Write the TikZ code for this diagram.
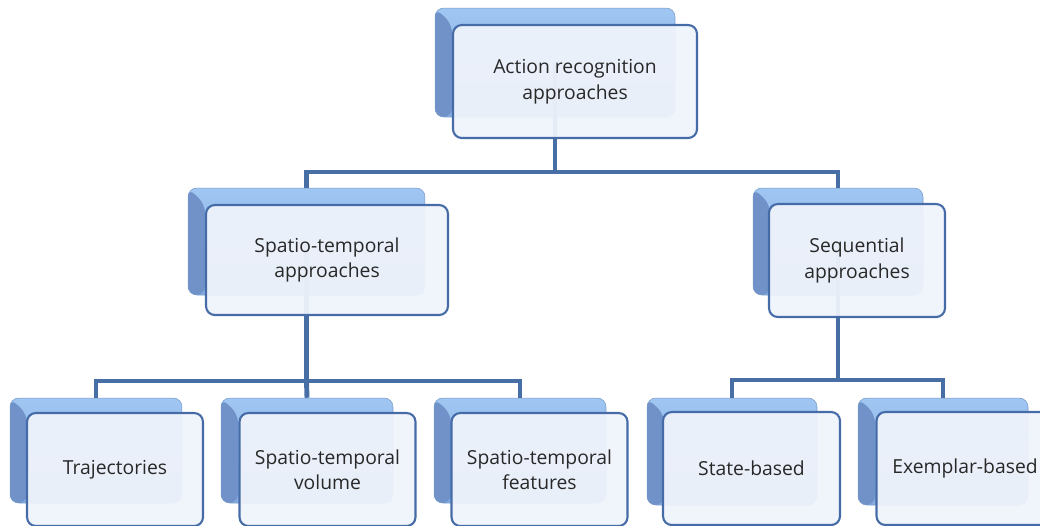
\documentclass[tikz,border=0pt]{standalone}
\usepackage{fontspec}
\setmainfont{Open Sans}
\definecolor{linkblue}{RGB}{72,110,166}
\definecolor{backtop}{RGB}{160,198,242}
\definecolor{backbot}{RGB}{132,172,226}
\definecolor{bevel}{RGB}{112,146,200}
\definecolor{frontfill}{RGB}{239,243,251}
\definecolor{frontline}{RGB}{70,108,168}
\definecolor{txt}{RGB}{40,40,40}

\tikzset{
  backbox/.style={rounded corners=5pt, top color=backtop, bottom color=backbot,
    draw=backbot!90!black, line width=0.3pt,
    path picture={\fill[bevel] (path picture bounding box.north west) -- ++(0.34cm,-0.32cm)
      -- ([xshift=0.34cm]path picture bounding box.south west)
      -- (path picture bounding box.south west) -- cycle;}},
  frontbox/.style={rounded corners=5pt, fill=frontfill, fill opacity=0.95,
    text opacity=1, draw=frontline, line width=1.2pt, align=center, text=txt,
    font=\fontsize{11}{14.5}\selectfont},
  link/.style={draw=linkblue, line width=2.8pt}
}

\begin{document}
\begin{tikzpicture}[x=0.02cm, y=-0.02cm]
\useasboundingbox (0,0) rectangle (1040,525);
\begin{scope}
\clip (0,0) rectangle (1040,525);

% back boxes
\node[backbox, minimum width=4.8cm, minimum height=2.18cm] (rootB) at (555,62.5) {};
\node[backbox, minimum width=4.74cm, minimum height=2.14cm] (stB) at (306.5,241.5) {};
\node[backbox, minimum width=3.4cm, minimum height=2.14cm] (seqB) at (838,241.5) {};
\node[backbox, minimum width=3.44cm, minimum height=2.1cm] (trajB) at (96,450.5) {};
\node[backbox, minimum width=3.44cm, minimum height=2.1cm] (volB) at (307,450.5) {};
\node[backbox, minimum width=3.44cm, minimum height=2.1cm] (featB) at (520,450.5) {};
\node[backbox, minimum width=3.4cm, minimum height=2.14cm] (stateB) at (732,451.5) {};
\node[backbox, minimum width=3.4cm, minimum height=2.14cm] (exB) at (943,451.5) {};

% connectors
\coordinate (bus1) at (555,172);
\coordinate (bus2) at (306.5,381);
\coordinate (bus3) at (838,380);
\draw[link] (rootB.center) -- (bus1) -| (stB.north); % root -- spatio-temporal
\draw[link] (bus1) -| (seqB.north); % root -- sequential
\draw[link] (stB.center) -- (bus2) -| (trajB.north); % spatio-temporal -- trajectories
\draw[link] (bus2) -- (volB.north); % spatio-temporal -- volume
\draw[link] (bus2) -| (featB.north); % spatio-temporal -- features
\draw[link] (seqB.center) -- (bus3) -| (stateB.north); % sequential -- state-based
\draw[link] (bus3) -| (exB.north); % sequential -- exemplar-based

% front boxes
\node[frontbox, minimum width=4.88cm, minimum height=2.26cm] (root) at (575,81.5) {Action recognition\\approaches};
\node[frontbox, minimum width=4.84cm, minimum height=2.2cm] (st) at (327,260) {Spatio-temporal\\approaches};
\node[frontbox, minimum width=3.52cm, minimum height=2.26cm] (seq) at (857,260.5) {Sequential\\approaches};
\node[frontbox, minimum width=3.52cm, minimum height=2.26cm] (traj) at (115,469.5) {Trajectories};
\node[frontbox, minimum width=3.52cm, minimum height=2.26cm] (vol) at (327.5,469.5) {Spatio-temporal\\volume};
\node[frontbox, minimum width=3.52cm, minimum height=2.26cm] (feat) at (539.5,469.5) {Spatio-temporal\\features};
\node[frontbox, minimum width=3.54cm, minimum height=2.26cm] (state) at (751.5,468.5) {State-based};
\node[frontbox, minimum width=3.54cm, minimum height=2.26cm] (ex) at (965,468.5) {Exemplar-based};
\end{scope}
\end{tikzpicture}
\end{document}
